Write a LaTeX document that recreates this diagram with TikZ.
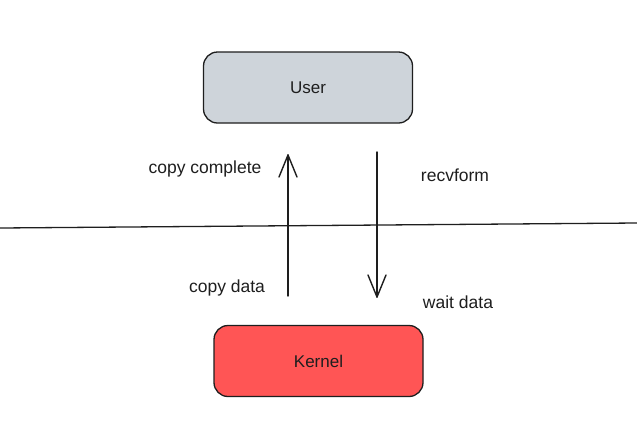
\documentclass[tikz,border=0pt]{standalone}
\usepackage{fontspec}
\setmainfont{Liberation Sans}
\definecolor{usergray}{HTML}{CED4DA}
\definecolor{kernelred}{HTML}{FF5555}
\definecolor{ink}{HTML}{1E1E1E}
\tikzset{
  box/.style={draw=ink, line width=1.3pt, rounded corners=14pt, minimum width=209pt, minimum height=71pt, font=\fontsize{17}{19}\selectfont, text=ink},
  lbl/.style={font=\fontsize{17.5}{20}\selectfont, text=ink},
  arr/.style={draw=ink, line width=1.4pt, line cap=round, line join=round},
}
\begin{document}
\begin{tikzpicture}[x=1pt,y=-1pt]
\useasboundingbox[fill=white] (0,0) rectangle (637,440);
\node[box, fill=usergray] (user) at (308,87.5) {User};
\node[box, fill=kernelred] (kernel) at (318.5,361) {Kernel};
\coordinate (l0) at (0,228);
\coordinate (l1) at (637,223);
\draw[ink, line width=1.3pt] (l0) -- (l1);
\coordinate (upS) at (288,296);
\coordinate (upE) at (288,155);
\coordinate (dnS) at (377,152);
\coordinate (dnE) at (377,297);
\draw[arr] (upS) -- (upE);
\draw[arr] (upE) ++(-9,22) -- (upE) -- ++(9,22);
\draw[arr] (dnS) -- (dnE);
\draw[arr] (dnE) ++(-9,-22) -- (dnE) -- ++(9,-22);
\node[lbl] (cc) at (205,169) {copy complete};
\node[lbl] (rf) at (455,175) {recvform};
\node[lbl] (cd) at (227,288) {copy data};
\node[lbl] (wd) at (458,302) {wait data};
\end{tikzpicture}
\end{document}
